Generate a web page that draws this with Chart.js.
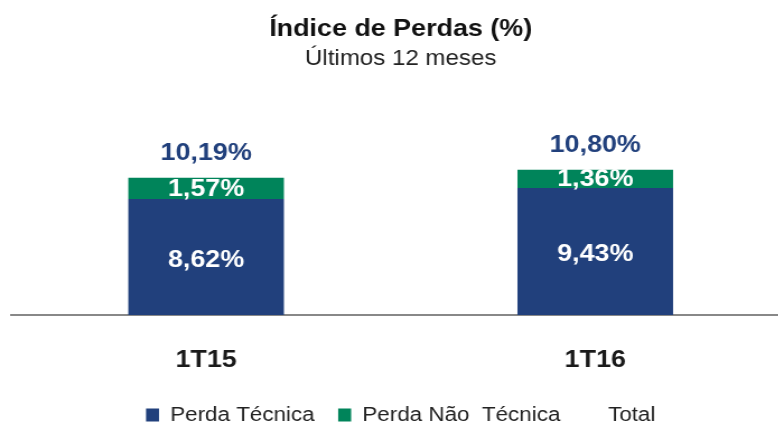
<!DOCTYPE html>
<html>
<head>
<meta charset="utf-8">
<script src="https://cdn.jsdelivr.net/npm/chart.js@4/dist/chart.umd.min.js"></script>
<style>
  body { margin: 0; background: #fff; }
  #wrap { width: 778px; height: 425px; overflow: hidden; }
  /* the reference text is slightly wide, so the whole canvas is stretched a little */
  #perdasChart { transform: scaleX(1.12); transform-origin: 0 0; }
</style>
</head>
<body>
<div id="wrap">
  <canvas id="perdasChart" width="711" height="425"></canvas>
</div>
<script>
const categories = ['1T15', '1T16'];
const perdaTecnica = [8.62, 9.43];
const perdaNaoTecnica = [1.57, 1.36];
const total = [10.19, 10.80];

const blue = '#21407C';
const green = '#00845A';
const fontFamily = '"Liberation Sans", Arial, sans-serif';

function fmt(v) {
  return v.toFixed(2).replace('.', ',') + '%';
}

// labels inside the bars and the total above
const barLabels = {
  id: 'barLabels',
  afterDatasetsDraw(chart) {
    const ctx = chart.ctx;
    ctx.save();
    ctx.textAlign = 'center';
    ctx.textBaseline = 'middle';
    ctx.font = 'bold 24px ' + fontFamily;
    chart.data.datasets.forEach((ds, i) => {
      const meta = chart.getDatasetMeta(i);
      meta.data.forEach((el, j) => {
        const v = ds.data[j];
        if (ds.type === 'line') {
          ctx.fillStyle = blue;
          ctx.fillText(fmt(v), el.x, el.y - 24);
        } else {
          ctx.fillStyle = '#fff';
          ctx.fillText(fmt(v), el.x, (el.y + el.base) / 2 + (i === 0 ? 3 : 1));
        }
      });
    });
    ctx.restore();
  }
};

const ctx = document.getElementById('perdasChart').getContext('2d');
new Chart(ctx, {
  data: {
    labels: categories,
    datasets: [
      {
        type: 'bar',
        label: 'Perda Técnica',
        data: perdaTecnica,
        backgroundColor: blue,
        stack: 'perdas',
        categoryPercentage: 1,
        barPercentage: 0.4
      },
      {
        type: 'bar',
        label: 'Perda Não  Técnica',
        data: perdaNaoTecnica,
        backgroundColor: green,
        stack: 'perdas',
        categoryPercentage: 1,
        barPercentage: 0.4
      },
      {
        type: 'line',
        label: 'Total',
        data: total,
        stack: 'total',
        showLine: false,
        pointRadius: 0,
        borderColor: 'rgba(0,0,0,0)',
        backgroundColor: 'rgba(0,0,0,0)'
      }
    ]
  },
  plugins: [barLabels],
  options: {
    responsive: false,
    animation: false,
    layout: { padding: { left: 10.3, right: 5.8, top: 0, bottom: -10 } },
    scales: {
      x: {
        stacked: true,
        grid: { display: false },
        border: { display: true, color: '#888', width: 2 },
        ticks: {
          padding: 23,
          color: '#1a1a1a',
          font: { family: fontFamily, size: 24, weight: 'bold' }
        },
        afterFit: s => { s.height = 69; }
      },
      y: {
        display: false,
        stacked: true,
        min: 0,
        max: 18
      }
    },
    plugins: {
      tooltip: { enabled: false },
      title: {
        display: true,
        text: 'Índice de Perdas (%)',
        color: '#111',
        font: { family: fontFamily, size: 24, weight: 'bold' },
        padding: { top: 15, bottom: 2 }
      },
      subtitle: {
        display: true,
        text: 'Últimos 12 meses',
        color: '#222',
        font: { family: fontFamily, size: 21.5, weight: 'normal' },
        padding: { top: 0, bottom: 1 }
      },
      legend: {
        position: 'bottom',
        labels: {
          boxWidth: 11.6,
          boxHeight: 13,
          padding: 21,
          color: '#222',
          font: { family: fontFamily, size: 20 },
          generateLabels: chart => chart.data.datasets.map((ds, i) => ({
            text: ds.label,
            fillStyle: ds.type === 'line' ? 'rgba(0,0,0,0)' : ds.backgroundColor,
            strokeStyle: 'rgba(0,0,0,0)',
            lineWidth: 0,
            fontColor: '#222',
            hidden: false,
            datasetIndex: i
          }))
        }
      }
    }
  }
});
</script>
</body>
</html>
